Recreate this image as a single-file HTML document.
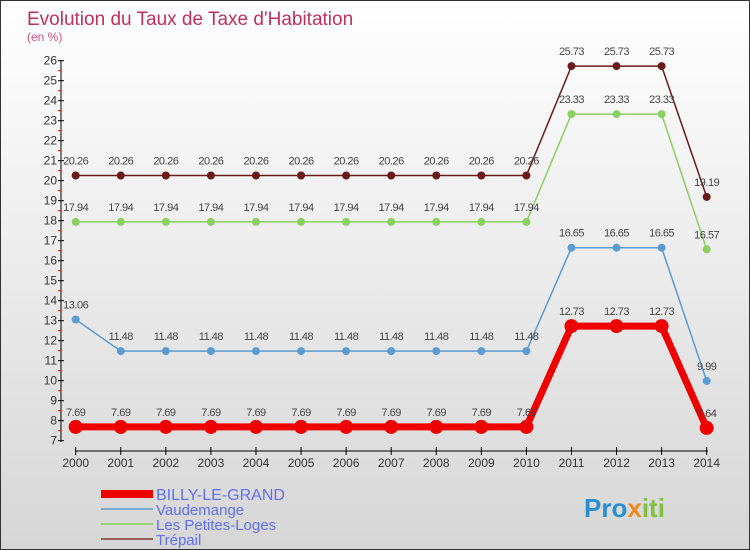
<!DOCTYPE html>
<html><head><meta charset="utf-8"><style>
body{margin:0}
#c{position:relative;width:748px;height:548px;border:1px solid #333;background:linear-gradient(#fff,#d6d6d6);overflow:hidden;font-family:"Liberation Sans",sans-serif}
</style></head><body>
<div id="c">
<svg id="s" width="748" height="548" style="position:absolute;left:0;top:0"></svg>
</div>
<script>
const years=["2000","2001","2002","2003","2004","2005","2006","2007","2008","2009","2010","2011","2012","2013","2014"];
const billy=[7.69,7.69,7.69,7.69,7.69,7.69,7.69,7.69,7.69,7.69,7.69,12.73,12.73,12.73,7.64];
const vaud=[13.06,11.48,11.48,11.48,11.48,11.48,11.48,11.48,11.48,11.48,11.48,16.65,16.65,16.65,9.99];
const petites=[17.94,17.94,17.94,17.94,17.94,17.94,17.94,17.94,17.94,17.94,17.94,23.33,23.33,23.33,16.57];
const trepail=[20.26,20.26,20.26,20.26,20.26,20.26,20.26,20.26,20.26,20.26,20.26,25.73,25.73,25.73,19.19];
const yTicks=[7,8,9,10,11,12,13,14,15,16,17,18,19,20,21,22,23,24,25,26];
const NS="http://www.w3.org/2000/svg";
const s=document.getElementById('s');
const X=i=>74.7+i*45.07;
const Y=v=>439.7-(v-7)*20;
function mk(t,a,p){const e=document.createElementNS(NS,t);for(const k in a)e.setAttribute(k,a[k]);(p||s).appendChild(e);return e;}
function tx(x,y,str,size,fill,anchor){const e=mk('text',{x:x,y:y,'font-size':size,fill:fill,'text-anchor':anchor||'start','font-family':'Liberation Sans, sans-serif'});e.textContent=str;return e;}
let t=tx(26,24,"Evolution du Taux de Taxe d'Habitation",19,'#c0305e');

t=tx(26,40,"(en %)",12,'#d05080');

// y axis
let ax=mk('line',{x1:60,y1:59,x2:60,y2:441,stroke:'#000','stroke-width':1});

yTicks.forEach(v=>{
 const l=mk('line',{x1:57,y1:Y(v),x2:63,y2:Y(v),stroke:'#000'});
 
 if(v<26){const m=mk('line',{x1:57,y1:Y(v+0.5),x2:60,y2:Y(v+0.5),stroke:'#e00'});}
 const e=tx(56,Y(v)+4,String(v),12,'#333','end');
 
});
ax=mk('line',{x1:74,y1:450,x2:707,y2:450,stroke:'#000'});

years.forEach((y,i)=>{
 const l=mk('line',{x1:X(i),y1:446,x2:X(i),y2:454,stroke:'#000'});
 
 const e=tx(X(i),466,y,12,'#333','middle');
 
});
function series(data,color,w,r,name){
 const g=mk('g',{});
 
 const p=mk('polyline',{points:data.map((v,i)=>X(i)+','+Y(v)).join(' '),fill:'none',stroke:color,'stroke-width':w,'stroke-linejoin':'round'},g);
 
 data.forEach((v,i)=>{
  const c=mk('circle',{cx:X(i),cy:Y(v),r:r,fill:color},g);
  
  const e=tx(X(i),Y(v)-11,String(v),11,'#444','middle',g);
  e.setAttribute('letter-spacing','-0.5');
  
 });
}
series(trepail,'#6b1a1a',1.5,4,'trepail');
series(petites,'#8ad060',1.5,4,'petites-loges');
series(vaud,'#5b9bd0',1.5,4,'vaudemange');
series(billy,'#ee0000',7,7,'billy-le-grand');
const leg=[['BILLY-LE-GRAND','#ee0000',8],['Vaudemange','#7aaad0',2],['Les Petites-Loges','#99d070',2],['Trépail','#9a6060',2]];
leg.forEach((l,i)=>{
 const y=493+i*15;
 const ln=mk('line',{x1:100,y1:y,x2:152,y2:y,stroke:l[1],'stroke-width':l[2]});
 
 const e=tx(155,y+6,l[0],i==0?16:15,'#6070ee');
 
});
const lg=tx(583,516,'',26,'#2a8fd0');
lg.setAttribute('font-weight','bold');

[['Pro','#2a8fd0'],['x','#f08a20'],['iti','#80c040']].forEach(p=>{const sp=mk('tspan',{fill:p[1]},lg);sp.textContent=p[0];});
</script>
</body></html>
